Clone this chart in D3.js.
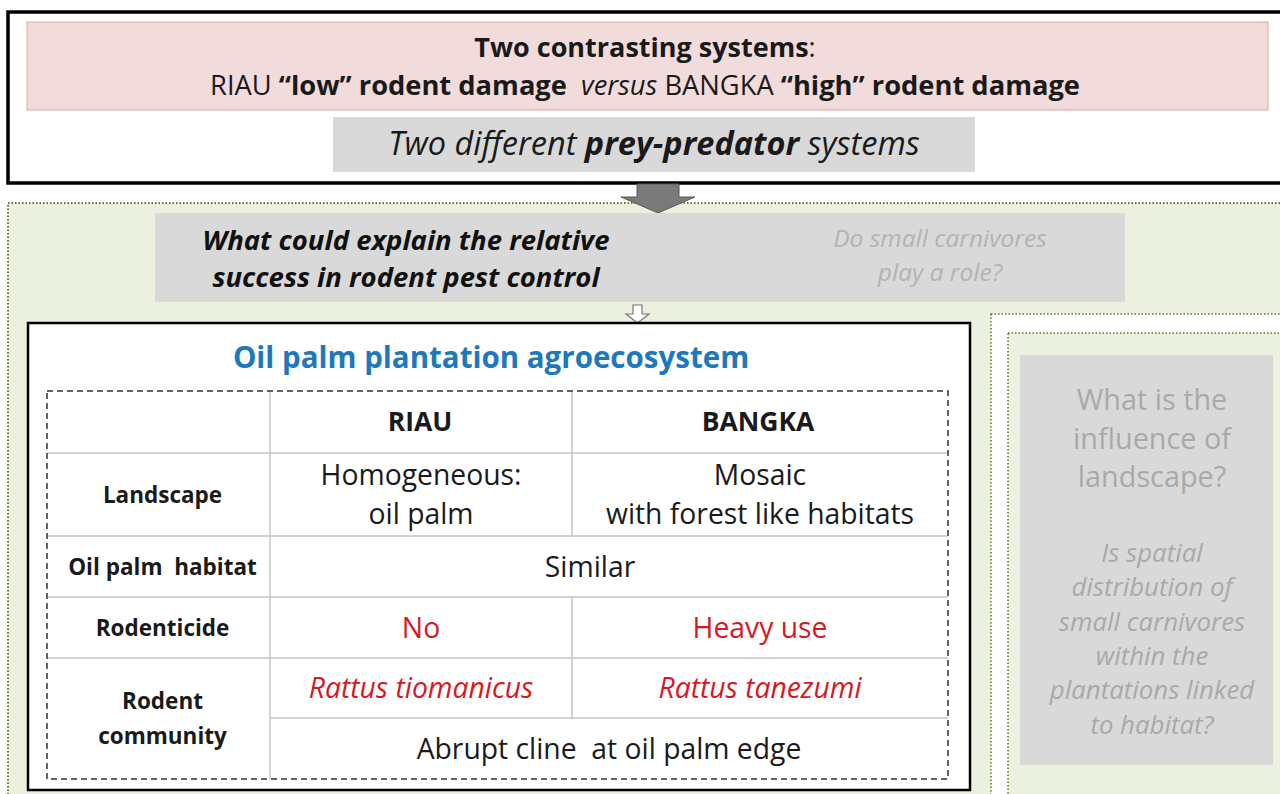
<!DOCTYPE html>
<html><head><meta charset="utf-8">
<script src="https://cdn.jsdelivr.net/npm/d3@7"></script>
<style>
html,body{margin:0;padding:0;background:#fff;}
svg{display:block;font-family:"Open Sans",Lato,sans-serif;}
</style></head>
<body><svg id="c" width="1280" height="794"></svg>
<script>
// ---- data ----
const headerLine1 = [{t:"Two contrasting systems",w:"bold"},{t:":",w:"normal"}];
const headerLine2 = [{t:"RIAU ",w:"normal"},{t:"\u201Clow\u201D rodent damage",w:"bold"},{t:"  "},{t:"versus",s:"italic"},{t:" BANGKA "},{t:"\u201Chigh\u201D rodent damage",w:"bold"}];
const preyLine = [{t:"Two different ",s:"italic"},{t:"prey-predator",s:"italic",w:"bold"},{t:" systems",s:"italic"}];
const questionLines = ["What could explain the relative","success in rodent pest control"];
const roleLines = ["Do small carnivores","play a role?"];
const tableTitle = "Oil palm plantation agroecosystem";
const regions = ["RIAU","BANGKA"];
const rowLabels = [["Landscape"],["Oil palm  habitat"],["Rodenticide"],["Rodent","community"]];
const riauValues = [["Homogeneous:","oil palm"],null,["No"],["Rattus tiomanicus"]];
const bangkaValues = [["Mosaic","with forest like habitats"],null,["Heavy use"],["Rattus tanezumi"]];
const sharedValues = [null,["Similar"],null,null];
const sharedExtra = "Abrupt cline  at oil palm edge";
const landscapeQ = ["What is the","influence of","landscape?"];
const spatialQ = ["Is spatial","distribution of","small carnivores","within the","plantations linked","to habitat?"];

const svg = d3.select("#c");
const RED = "#d7191f", BLUE = "#1e78bd", DARK = "#1a1a1a", GREYTXT = "#a9a9a9";

function runs(sel, x, y, parts, size, fill){
  const t = sel.append("text").attr("x",x).attr("y",y).attr("text-anchor","middle")
    .attr("font-size",size).attr("fill",fill||DARK).attr("xml:space","preserve");
  parts.forEach(p=>t.append("tspan").text(p.t)
      .attr("font-weight",p.w||"normal").attr("font-style",p.s||"normal"));
  return t;
}
function lines(sel, x, y0, dy, arr, size, opts){
  opts = opts||{};
  arr.forEach((l,i)=>sel.append("text").attr("x",x).attr("y",y0+i*dy)
    .attr("text-anchor","middle").attr("font-size",size)
    .attr("font-weight",opts.w||"normal").attr("font-style",opts.s||"normal")
    .attr("fill",opts.fill||DARK).attr("xml:space","preserve").text(l));
}

// ---- green dotted region ----
svg.append("rect").attr("x",8).attr("y",203).attr("width",1290).attr("height",600)
  .attr("fill","#ebf1de").attr("stroke","#5b7a2a").attr("stroke-width",2).attr("stroke-dasharray","1.5,2");

// ---- top box ----
svg.append("rect").attr("x",8).attr("y",12).attr("width",1290).attr("height",171)
  .attr("fill","#fff").attr("stroke","#000").attr("stroke-width",3.5);
svg.append("rect").attr("x",27).attr("y",22).attr("width",1241).attr("height",88)
  .attr("fill","#f2dcdb").attr("stroke","#e3a6a5").attr("stroke-width",1);
runs(svg,645,57,headerLine1,27);
runs(svg,645,95,headerLine2,27.3);
svg.append("rect").attr("x",333).attr("y",117).attr("width",642).attr("height",55).attr("fill","#d9d9d9");
runs(svg,654,155,preyLine,32.5);

// ---- big arrow ----
svg.append("path").attr("d","M637,184 L679,184 L679,197 L695,197 L658,213 L621,197 L637,197 Z")
  .attr("fill","#7a7a7a").attr("stroke","#5a5a5a").attr("stroke-width",1);

// ---- question box ----
svg.append("rect").attr("x",155).attr("y",213).attr("width",970).attr("height",89).attr("fill","#d9d9d9");
lines(svg,406,250,37,questionLines,27.5,{w:"bold",s:"italic",fill:"#111"});
lines(svg,940,247,34,roleLines,24.5,{s:"italic",fill:"#b3b3b3"});

// small hollow arrow
svg.append("path").attr("d","M633,305 L642,305 L642,314 L649,314 L637.5,323 L626,314 L633,314 Z")
  .attr("fill","#fff").attr("stroke","#777").attr("stroke-width",1.2);

// ---- right panel ----
svg.append("rect").attr("x",991).attr("y",314).attr("width",300).attr("height",490)
  .attr("fill","#fff").attr("stroke","#5b7a2a").attr("stroke-width",1.5).attr("stroke-dasharray","1.5,2");
svg.append("rect").attr("x",1008).attr("y",333).attr("width",280).attr("height",470)
  .attr("fill","#ebf1de").attr("stroke","#5b7a2a").attr("stroke-width",1.5).attr("stroke-dasharray","1.5,2");
svg.append("rect").attr("x",1020).attr("y",355).attr("width",253).attr("height",410).attr("fill","#d9d9d9");
lines(svg,1152,410,38.5,landscapeQ,28.8,{fill:GREYTXT});
lines(svg,1152,562,34.3,spatialQ,25.8,{s:"italic",fill:GREYTXT});

// ---- table box ----
svg.append("rect").attr("x",28).attr("y",323).attr("width",942).attr("height",467)
  .attr("fill","#fff").attr("stroke","#000").attr("stroke-width",2.5);
svg.append("text").attr("x",491).attr("y",368).attr("text-anchor","middle").attr("font-size",29.5)
  .attr("font-weight","bold").attr("fill",BLUE).text(tableTitle);

const colX = d3.scaleOrdinal().domain(["label","riau","bangka","end"]).range([47,270,572,948]);
const rowY = [391,453,536,597,658,718,779];
const tx0 = colX("label"), tx1 = colX("riau"), tx2 = colX("bangka"), tx3 = colX("end");
const g = svg.append("g");
const grid = "#c4c4c4";
g.append("line").attr("x1",tx0).attr("x2",tx3).attr("y1",rowY[1]).attr("y2",rowY[1]).attr("stroke",grid).attr("stroke-width",1.5);
[2,3,4].forEach(i=>g.append("line").attr("x1",tx0).attr("x2",tx3).attr("y1",rowY[i]).attr("y2",rowY[i]).attr("stroke",grid).attr("stroke-width",1.5));
g.append("line").attr("x1",tx1).attr("x2",tx3).attr("y1",rowY[5]).attr("y2",rowY[5]).attr("stroke",grid).attr("stroke-width",1.5);
g.append("line").attr("x1",tx1).attr("x2",tx1).attr("y1",rowY[0]).attr("y2",rowY[6]).attr("stroke",grid).attr("stroke-width",1.5);
[[0,2],[3,5]].forEach(([a,b])=>g.append("line").attr("x1",tx2).attr("x2",tx2).attr("y1",rowY[a]).attr("y2",rowY[b]).attr("stroke",grid).attr("stroke-width",1.5));
g.append("rect").attr("x",tx0).attr("y",rowY[0]).attr("width",tx3-tx0).attr("height",rowY[6]-rowY[0])
  .attr("fill","none").attr("stroke","#333").attr("stroke-width",1.5).attr("stroke-dasharray","6,4");

const cLab = (tx0+tx1)/2+4, cR = (tx1+tx2)/2, cB = (tx2+tx3)/2, cAll = (tx1+tx3)/2;
lines(g,cR-1,431,0,[regions[0]],26.5,{w:"bold"});
lines(g,cB-2,431,0,[regions[1]],26.5,{w:"bold"});
const labelSpans = [[1,2],[2,3],[3,4],[4,6]];
rowLabels.forEach((l,i)=>{
  const [a,b] = labelSpans[i];
  const mid = (rowY[a]+rowY[b])/2;
  const dy = 35;
  lines(g,cLab,mid+8-(l.length-1)*dy/2,dy,l,22.5,{w:"bold"});
});
[riauValues,bangkaValues].forEach((vals,k)=>{
  const cx = k===0?cR:cB;
  vals.forEach((v,i)=>{
    if(!v) return;
    const a = i+1, b = i+2;
    const mid = (rowY[a]+rowY[b])/2;
    const dy = 39;
    const isRed = i>=2;
    lines(g,cx,mid+10-(v.length-1)*dy/2,dy,v,28.3,{fill:isRed?RED:DARK,s:i===3?"italic":"normal"});
  });
});
sharedValues.forEach((v,i)=>{
  if(!v) return;
  const mid=(rowY[i+1]+rowY[i+2])/2;
  lines(g,cAll-19,mid+10,0,v,28.3);
});
lines(g,cAll,(rowY[5]+rowY[6])/2+10,0,[sharedExtra],28.3);
</script></body></html>
